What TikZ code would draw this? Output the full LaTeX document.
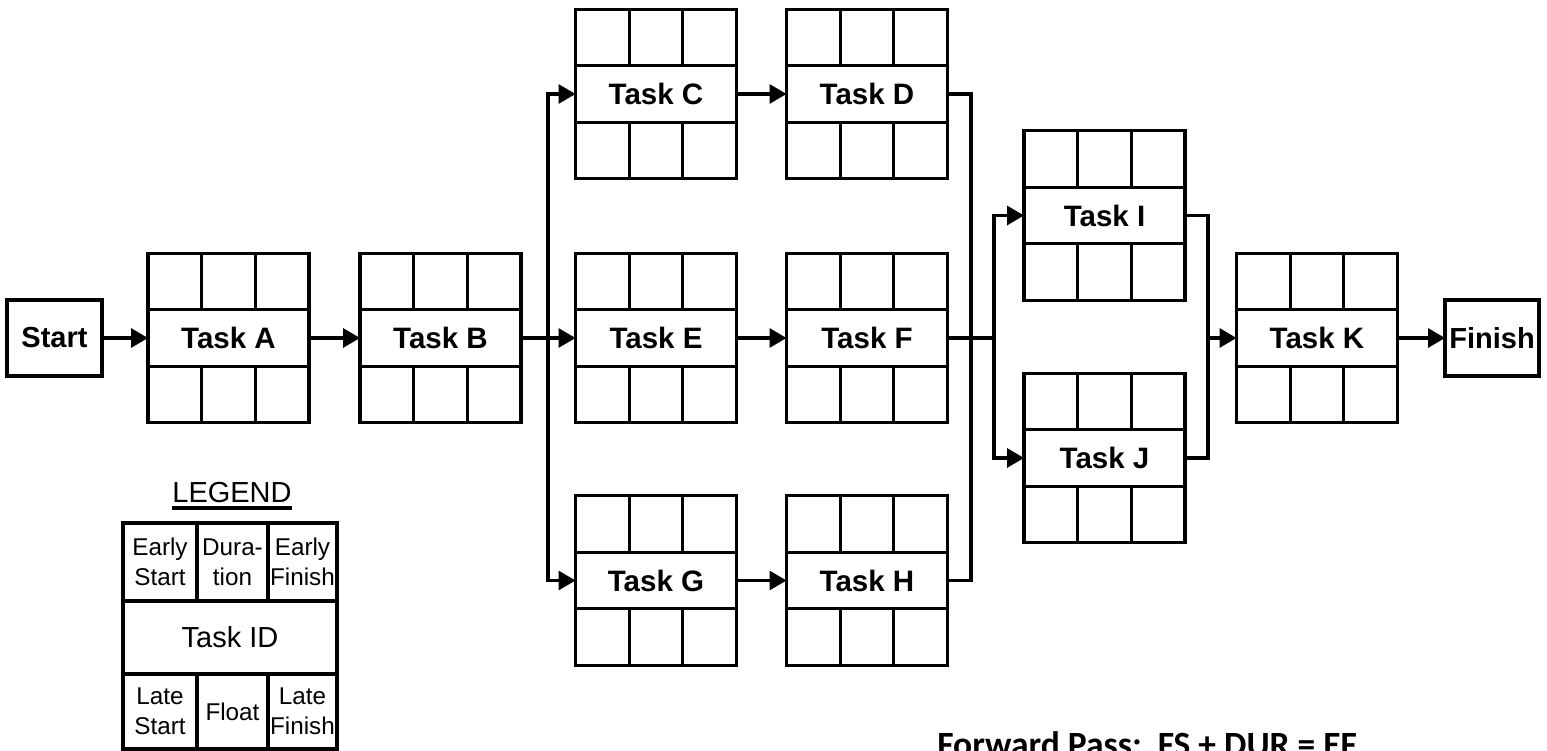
\documentclass[tikz,border=0pt]{standalone}
\usepackage{fontspec}
\setmainfont{Liberation Sans}
\newfontfamily\calibfont{Carlito}
\usepackage{tikz}
\usetikzlibrary{arrows.meta,positioning,calc}

\newcommand{\taskbox}[3]{%
  \node[task] (#1) at (#2) {#3};
  \draw[grid] (#1.north west) rectangle ++(161,56.5);
  \draw[grid] (#1.south west) rectangle ++(161,-56.5);
  \foreach \cc in {1,2}{
    \draw[grid] ($(#1.north west)!\cc/3!(#1.north east)$) -- ++(0,56.5);
    \draw[grid] ($(#1.south west)!\cc/3!(#1.south east)$) -- ++(0,-56.5);
  }
}

\begin{document}
\begin{tikzpicture}[
  x=0.02cm, y=0.02cm,
  >={Triangle[length=3.4mm,width=3.8mm]},
  grid/.style={line width=1.8pt},
  link/.style={line width=1.8pt},
  task/.style={draw,line width=1.8pt,minimum width=3.22cm,minimum height=1.13cm,
              inner sep=0pt,outer sep=0pt,
              font=\bfseries\fontsize{16.8}{20}\selectfont},
  term/.style={draw,line width=1.8pt,minimum height=1.52cm,inner sep=0pt,outer sep=0pt,
              font=\bfseries\fontsize{16.5}{20}\selectfont},
  legtxt/.style={inner sep=0pt,align=center,font=\fontsize{13.8}{17}\selectfont},
  legbig/.style={inner sep=0pt,font=\fontsize{16.5}{20}\selectfont}
]
\useasboundingbox (0,0) rectangle (1547,750);

\node[term,minimum width=1.9cm]  (start)  at (54.5,412) {Start};
\node[term,minimum width=1.88cm] (finish) at (1492,412) {Finish};

\taskbox{tA}{228.5,412}{Task A}
\taskbox{tB}{440.5,412}{Task B}
\taskbox{tC}{656,656}{Task C}
\taskbox{tD}{867,656}{Task D}
\taskbox{tE}{656,412}{Task E}
\taskbox{tF}{867,412}{Task F}
\taskbox{tG}{656,169.5}{Task G}
\taskbox{tH}{867,169.5}{Task H}
\taskbox{tI}{1104.5,534.5}{Task I}
\taskbox{tJ}{1104.5,292}{Task J}
\taskbox{tK}{1317,412}{Task K}

\coordinate (busB) at (548,412);
\coordinate (busR) at (971,412);
\coordinate (busF) at (994,412);
\coordinate (busK) at (1208,412);

\draw[->,link] (start) -- (tA);
\draw[->,link] (tA) -- (tB);
\draw[link] (tB) -- (busB);
\draw[->,link] (busB) |- (tC.west);
\draw[->,link] (busB) -- (tE.west);
\draw[->,link] (busB) |- (tG.west);
\draw[->,link] (tC) -- (tD);
\draw[->,link] (tE) -- (tF);
\draw[->,link] (tG) -- (tH);
\draw[link] (tD.east) -| (busR);
\draw[link] (tH.east) -| (busR);
\draw[link] (tF.east) -- (busF);
\draw[->,link] (busF) |- (tI.west);
\draw[->,link] (busF) |- (tJ.west);
\draw[link] (tI.east) -| (busK);
\draw[link] (tJ.east) -| (busK);
\draw[->,link] (busK) -- (tK.west);
\draw[->,link] (tK) -- (finish);

\node[legbig] (legT) at (232,257) {LEGEND};
\draw[grid] (legT.base west|-0,242) -- (legT.base east|-0,242);
\draw[grid] (123,1) rectangle (337,227);
\draw[grid] (123,149) -- (337,149);
\draw[grid] (123,76) -- (337,76);
\draw[grid] (197,149) -- (197,227);
\draw[grid] (268,149) -- (268,227);
\draw[grid] (197,1) -- (197,76);
\draw[grid] (268,1) -- (268,76);
\node[legtxt] (legES) at (160,188) {Early\\Start};
\node[legtxt] (legDU) at (232.5,188) {Dura-\\tion};
\node[legtxt] (legEF) at (302.5,188) {Early\\Finish};
\node[legbig] (legID) at (230,112.5) {Task ID};
\node[legtxt] (legLS) at (160,38.5) {Late\\Start};
\node[legtxt] (legFL) at (232.5,38.5) {Float};
\node[legtxt] (legLF) at (302.5,38.5) {Late\\Finish};

\node[anchor=base west,inner sep=0pt,font=\calibfont\bfseries\fontsize{20.2}{24}\selectfont]
  (fwd) at (937,-6) {Forward Pass:\ \ FS + DUR = EF};
\end{tikzpicture}
\end{document}
